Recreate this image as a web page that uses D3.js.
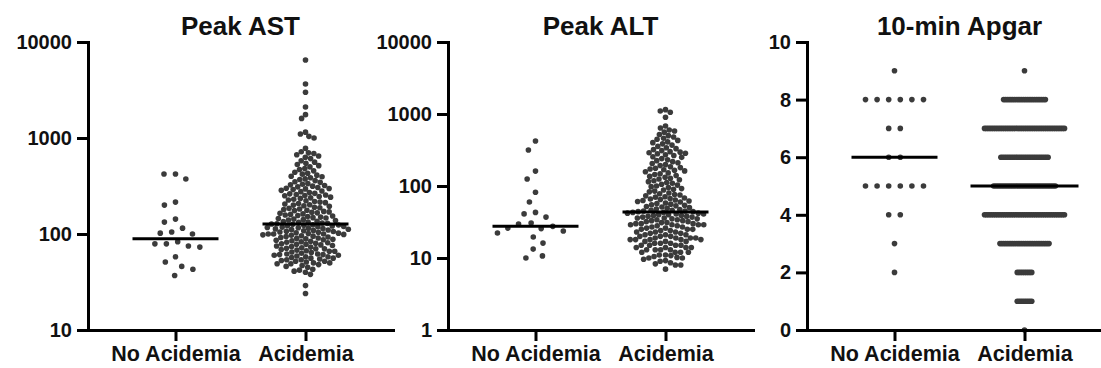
<!DOCTYPE html>
<html>
<head>
<meta charset="utf-8">
<script src="https://cdn.jsdelivr.net/npm/d3@7"></script>
<style>
  body { margin: 0; background: #fff; }
  text { font-family: "Liberation Sans", Arial, sans-serif; font-weight: bold; fill: #111; }
</style>
</head>
<body>
<svg id="chart" width="1101" height="368"></svg>
<script>
// --- données ---
const groups = ["No Acidemia", "Acidemia"];
const titles = ["Peak AST", "Peak ALT", "10-min Apgar"];

const astNoAcid = [422, 422, 374, 215, 200, 143, 133, 115, 105, 102, 100, 83, 79, 79, 75, 73, 58, 51, 46, 43, 37];
const astAcid = [
  6500, 3650, 3000, 2100, 1750, 1600, 1150, 1100, 1040, 1000,
  780, 720, 700, 690, 670, 650, 630,
  610, 580, 560, 545, 530,
  515, 500, 480, 470, 455, 440, 430, 420, 410, 400,
  395, 385, 375, 370, 360, 350, 345, 335, 330, 325, 320, 315, 310,
  305, 300, 298, 295, 290, 285, 280, 276, 270, 265, 262, 258, 255, 252, 250,
  246, 242, 238, 235, 230, 226, 222, 218, 215, 212, 208, 205, 202, 200,
  197, 194, 190, 188, 185, 182, 180, 177, 175, 172, 170, 168, 166, 164, 162, 160, 158,
  156, 154, 152, 150, 148, 147, 145, 143, 141, 140, 138, 136, 135, 133, 132, 130, 129, 128, 127, 126,
  125, 124, 123, 122, 121, 120, 119, 118, 117, 116, 115, 114, 113, 112, 111, 110, 109, 108, 107, 106, 105, 104, 103, 102, 101, 100, 100, 100,
  99, 98, 97, 96, 95, 94, 93, 92, 91, 90, 89, 88, 87, 86, 85, 84, 83, 82, 81, 80, 79, 78, 78, 77,
  76, 75, 74, 73, 72, 71, 70, 70, 69, 68, 67, 66, 66, 65, 64, 63, 62, 62, 61, 61, 60, 60,
  59, 58, 58, 57, 56, 56, 55, 54, 54, 53, 52, 52, 51, 50, 50, 49, 49, 48,
  47, 46, 45, 43, 42, 41, 40, 38,
  29, 24
];

const altNoAcid = [422, 316, 161, 125, 82, 60, 43, 41, 37, 30.6, 29.7, 27.5, 26, 25.6, 23.7, 22.2, 19.6, 16.1, 13.3, 10.7, 10];
const altAcid = [
  1150, 1100, 1060, 900,
  680, 640, 600, 580, 560, 520, 500, 480, 460, 445,
  430, 410, 400, 385, 370, 355, 340, 330, 320, 310, 300, 295, 290, 285, 280, 272,
  265, 255, 250, 240, 232, 225, 218, 210, 205, 198, 192, 185, 180, 176, 172, 168, 165,
  162, 158, 152, 148, 144, 140, 136, 132, 128, 125, 122, 118, 115, 112, 109, 106, 103,
  100, 98, 95, 92, 90, 88, 85, 83, 80, 78, 76, 75, 73, 71, 70, 68, 67, 66, 65, 64,
  63, 62, 61, 60, 58, 57, 56, 55, 54, 53, 52, 51, 50, 49, 48, 47, 46, 46, 45, 45, 44, 44,
  43, 43, 42, 42, 41, 41, 40, 40, 39, 39, 38, 38, 37, 37, 36, 36, 35, 35, 34, 34, 33, 33, 32, 32, 31, 31, 30, 30, 30, 29, 29, 29, 29,
  28, 28, 27, 27, 26, 26, 25, 25, 25, 24, 24, 23, 23, 23, 22, 22, 21, 21, 21, 20, 20, 20, 19, 19, 19, 19, 18, 18, 18, 18, 18,
  17, 17, 17, 16, 16, 16, 15, 15, 15, 15, 14, 14, 14, 14, 13, 13, 13, 13, 12, 12, 12, 12, 11, 11,
  10.8, 10.5, 10.2, 10, 10, 9.6, 9.2, 9, 8.6, 8.3,
  8, 8, 7
];

const apgarScores = [0, 1, 2, 3, 4, 5, 6, 7, 8, 9];
const apgarNoAcidCounts = [0, 0, 1, 1, 2, 6, 2, 2, 6, 1];
const apgarAcidCounts = [1, 9, 9, 28, 45, 35, 27, 45, 24, 1];

const medianAST = [89, 127];
const medianALT = [27.5, 43.5];
const medianApgar = [6, 5];

const astTicks = [10, 100, 1000, 10000];
const altTicks = [1, 10, 100, 1000, 10000];
const apgarTicks = [0, 2, 4, 6, 8, 10];

// --- mise en page ---
const svg = d3.select("#chart");
const plotTop = 42, plotBottom = 330, plotW = 305;
const axisLeft = [88, 448, 807];
const dotR = 2.8;
const dotColor = "#3b3b3b";
const swarmGap = [11.5, 5.4]; // espacement des points : large pour le petit groupe, serré sinon

// beeswarm simple : on place chaque point au plus près du centre sans chevauchement
function swarm(values, y, d) {
  const pts = values.map(v => ({ v, y: y(v) })).sort((a, b) => a.y - b.y);
  const placed = [];
  pts.forEach(p => {
    const near = placed.filter(q => Math.abs(q.y - p.y) < d);
    const cands = [0];
    near.forEach(q => {
      const w = Math.sqrt(d * d - (q.y - p.y) ** 2);
      cands.push(q.x - w, q.x + w);
    });
    cands.sort((a, b) => Math.abs(a) - Math.abs(b));
    p.x = cands.find(c => near.every(q => (q.x - c) ** 2 + (q.y - p.y) ** 2 >= d * d - 0.01));
    placed.push(p);
  });
  return pts;
}

// lignes de points pour les scores entiers
function rows(counts, y, maxSpread) {
  const maxN = d3.max(counts);
  const step = Math.min(11.6, maxSpread / (maxN - 1));
  const pts = [];
  counts.forEach((n, i) => {
    for (let k = 0; k < n; k++) pts.push({ v: apgarScores[i], y: y(apgarScores[i]), x: (k - (n - 1) / 2) * step });
  });
  return pts;
}

function drawPanel(i, y, ticks, series, medians, layout, medianHalf) {
  const x0 = axisLeft[i];
  const x = d3.scalePoint().domain(groups).range([x0, x0 + plotW]).padding(0.673);
  const g = svg.append("g");

  series.forEach((vals, j) => {
    const pts = layout(vals, y, j);
    g.append("g").selectAll("circle")
      .data(pts)
      .enter().append("circle")
      .attr("cx", d => x(groups[j]) + d.x)
      .attr("cy", d => d.y)
      .attr("r", dotR)
      .attr("fill", dotColor);
  });

  g.selectAll("line.median")
    .data(medians)
    .enter().append("line")
    .attr("class", "median")
    .attr("x1", (d, j) => x(groups[j]) - medianHalf[j])
    .attr("x2", (d, j) => x(groups[j]) + medianHalf[j])
    .attr("y1", d => y(d)).attr("y2", d => y(d))
    .attr("stroke", "#000").attr("stroke-width", 3);

  const yAxis = g.append("g")
    .attr("transform", `translate(${x0},0)`)
    .call(d3.axisLeft(y).tickValues(ticks).tickFormat(d3.format("d")).tickSize(11).tickSizeOuter(0).tickPadding(5));
  const xAxis = g.append("g")
    .attr("transform", `translate(0,${plotBottom})`)
    .call(d3.axisBottom(x).tickSize(11).tickSizeOuter(0).tickPadding(5));

  [yAxis, xAxis].forEach(a => {
    a.select(".domain").attr("stroke", "#000").attr("stroke-width", 3).attr("stroke-linecap", "square");
    a.selectAll(".tick line").attr("stroke", "#000").attr("stroke-width", 3);
  });
  yAxis.selectAll("text").style("font-size", "20px").attr("fill", "#111");
  xAxis.selectAll("text").style("font-size", "21.5px").attr("fill", "#111");

  g.append("text")
    .attr("x", x0 + plotW / 2)
    .attr("y", 35)
    .attr("text-anchor", "middle")
    .style("font-size", "26px")
    .text(titles[i]);
}

const yAST = d3.scaleLog().domain([10, 10000]).range([plotBottom, plotTop]);
const yALT = d3.scaleLog().domain([1, 10000]).range([plotBottom, plotTop]);
const yApgar = d3.scaleLinear().domain([0, 10]).range([plotBottom, plotTop]);

const swarmLayout = (vals, y, j) => swarm(vals, y, swarmGap[j]);

drawPanel(0, yAST, astTicks, [astNoAcid, astAcid], medianAST, swarmLayout, [43, 43]);
drawPanel(1, yALT, altTicks, [altNoAcid, altAcid], medianALT, swarmLayout, [43, 43]);
drawPanel(2, yApgar, apgarTicks, [apgarNoAcidCounts, apgarAcidCounts], medianApgar, (c, y) => rows(c, y, 80), [43, 54]);
</script>
</body>
</html>
